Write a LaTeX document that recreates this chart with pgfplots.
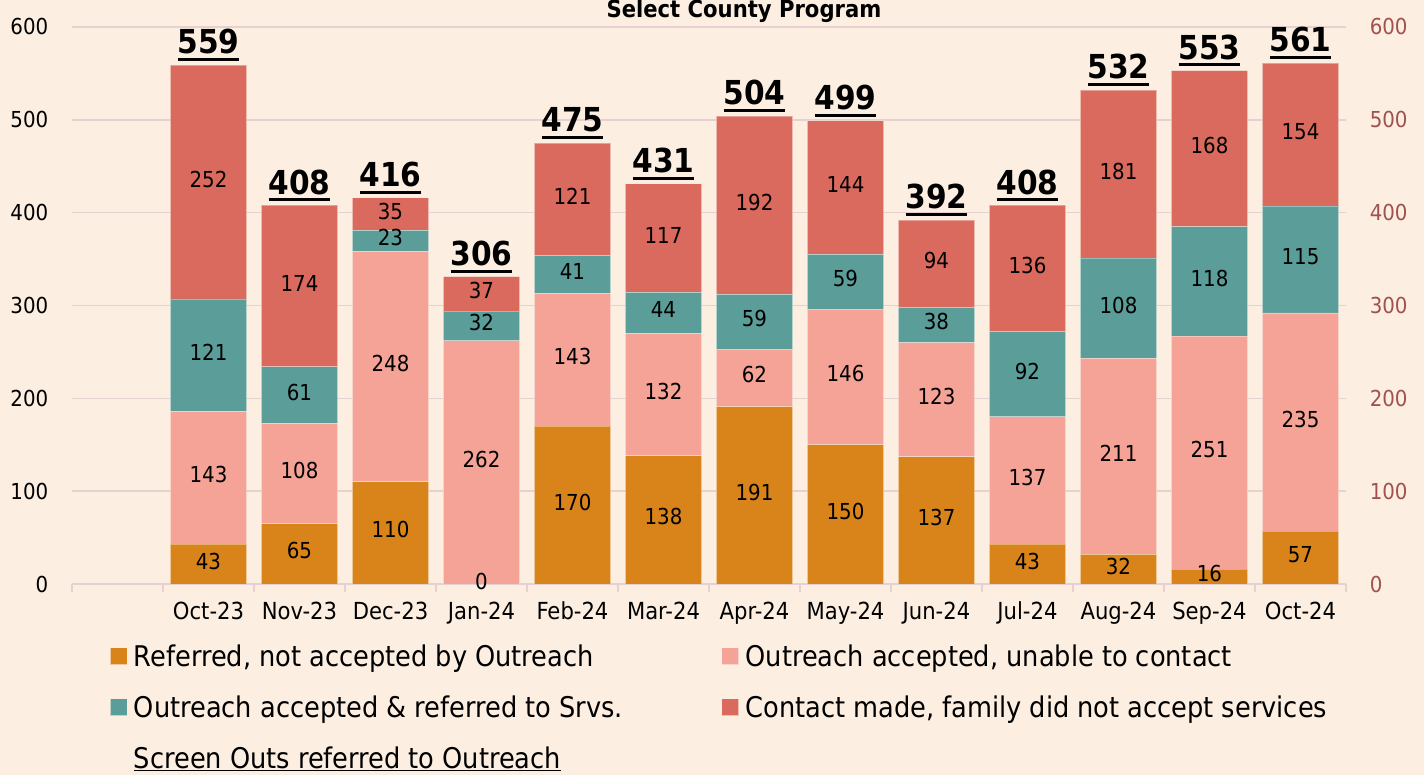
\documentclass[border=0pt]{standalone}
\usepackage{pgfplots}
\pgfplotsset{compat=1.18}
\usepackage{pgfplotstable}
\usepackage{fontspec}
\setmainfont{DejaVu Sans Condensed}
\definecolor{bg}{HTML}{FCEFE1}
\definecolor{c1}{HTML}{D9841A}
\definecolor{c2}{HTML}{F4A396}
\definecolor{c3}{HTML}{5B9E99}
\definecolor{c4}{HTML}{D96A5D}
\definecolor{gridc}{HTML}{E6D0D0}
\definecolor{rightc}{HTML}{A0524F}
\pgfplotsset{/pgf/number format/assume math mode=true}
\newcommand\ulbold[1]{\setbox0\hbox{#1}\rlap{\rule[-7pt]{\wd0}{3pt}}\box0}

\pgfplotstableread{
x a b c d
1 43 143 121 252
2 65 108 61 174
3 110 248 23 35
4 0 262 32 37
5 170 143 41 121
6 138 132 44 117
7 191 62 59 192
8 150 146 59 144
9 137 123 38 94
10 43 137 92 136
11 32 211 108 181
12 16 251 118 168
13 57 235 115 154
}\data

\pgfplotstableread{
x y lab
1 559 559
2 408 408
3 416 416
4 331 306
5 475 475
6 431 431
7 504 504
8 499 499
9 392 392
10 408 408
11 532 532
12 553 553
13 561 561
}\totals

\begin{document}
\begin{tikzpicture}
\useasboundingbox (0,0) rectangle (1424pt,775pt);
\clip (0,0) rectangle (1424pt,775pt);
\fill[bg] (0,0) rectangle (1424pt,775pt);
\node[font=\fontsize{23.5}{28}\selectfont\bfseries, anchor=base] at (744pt,757pt) {Select County Program};

\begin{axis}[
  width=1274pt, height=557pt, scale only axis,
  at={(72pt,191pt)}, anchor=south west,
  xmin=-0.5, xmax=13.5, ymin=0, ymax=600,
  ybar stacked, bar width=76pt,
  xtick={1,...,13},
  xticklabels={Oct-23,Nov-23,Dec-23,Jan-24,Feb-24,Mar-24,Apr-24,May-24,Jun-24,Jul-24,Aug-24,Sep-24,Oct-24},
  minor xtick={-0.5,0.5,...,13.5},
  major x tick style={draw=none},
  minor x tick style={draw=gridc, line width=1.5pt},
  minor tick length=8pt,
  tick align=outside,
  ytick={0,100,...,600},
  ytick style={draw=none},
  axis x line*=bottom, axis y line*=left,
  x axis line style={draw=gridc, line width=2pt, -},
  y axis line style={draw=none},
  ymajorgrids, grid style={draw=gridc, line width=1.5pt},
  xticklabel style={font=\fontsize{23.5}{28}\selectfont, yshift=-10pt},
  yticklabel style={font=\fontsize{22}{26}\selectfont, xshift=-16pt},
  nodes near coords,
  nodes near coords style={font=\fontsize{22}{26}\selectfont, anchor=center, yshift=3pt},
  point meta=explicit,
  legend columns=2,
  legend style={at={(0.0298,-0.108)}, anchor=north west, draw=none, fill=none,
    font=\fontsize{28.5}{33}\selectfont, inner sep=0pt, row sep=28pt,
    nodes={inner sep=0pt, anchor=west},
    /tikz/every odd column/.append style={column sep=7pt}},
  legend cell align=left,
]
\addplot[fill=c1, draw=white, draw opacity=0.35, line width=0.8pt,
  legend image code/.code={\fill[c1] (0pt,-8pt) rectangle (16pt,8pt);}]
  table[x=x, y=a, meta=a]{\data};
\addlegendentry{\makebox[588pt][l]{Referred, not accepted by Outreach}}
\addplot[fill=c2, draw=white, draw opacity=0.35, line width=0.8pt,
  legend image code/.code={\fill[c2] (0pt,-8pt) rectangle (16pt,8pt);}]
  table[x=x, y=b, meta=b]{\data};
\addlegendentry{Outreach accepted, unable to contact}
\addplot[fill=c3, draw=white, draw opacity=0.35, line width=0.8pt,
  legend image code/.code={\fill[c3] (0pt,-8pt) rectangle (16pt,8pt);}]
  table[x=x, y=c, meta=c]{\data};
\addlegendentry{\makebox[588pt][l]{Outreach accepted \& referred to Srvs.}}
\addplot[fill=c4, draw=white, draw opacity=0.35, line width=0.8pt,
  legend image code/.code={\fill[c4] (0pt,-8pt) rectangle (16pt,8pt);}]
  table[x=x, y=d, meta=d]{\data};
\addlegendentry{Contact made, family did not accept services}
\addlegendimage{draw=none, fill=none, legend image code/.code={\path[draw=none,fill=none] (0pt,-8pt) rectangle (16pt,8pt);}}
\addlegendentry{\makebox[588pt][l]{\underline{Screen Outs referred to Outreach}}}
\end{axis}

\begin{axis}[
  width=1274pt, height=557pt, scale only axis,
  at={(72pt,191pt)}, anchor=south west,
  xmin=-0.5, xmax=13.5, ymin=0, ymax=600,
  axis y line*=right, hide x axis,
  y axis line style={draw=none},
  ytick={0,100,...,600}, ytick style={draw=none},
  tick align=outside,
  yticklabel style={font=\fontsize{22}{26}\selectfont, text=rightc, xshift=16pt},
  clip=false,
]
\addplot[only marks, mark=text, text mark={},
  point meta=explicit symbolic,
  nodes near coords={\ulbold{\pgfplotspointmeta}},
  nodes near coords style={anchor=south, inner sep=0pt, yshift=4pt,
    font=\fontsize{33}{40}\selectfont\bfseries}]
  table[x=x, y=y, meta=lab]{\totals};
% label of the zero-height segment (Jan-24, Referred), drawn on top of the bars
\addplot[only marks, mark=text, text mark={},
  point meta=explicit symbolic,
  nodes near coords,
  nodes near coords style={anchor=center, yshift=3pt,
    font=\fontsize{22}{26}\selectfont}]
  coordinates {(4,0) [0]};
\end{axis}
\end{tikzpicture}
\end{document}
